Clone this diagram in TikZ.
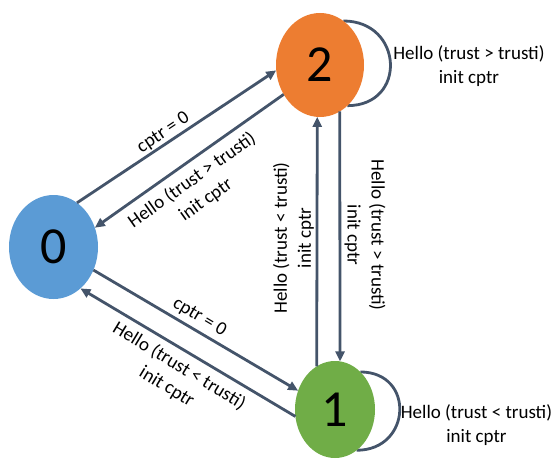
\documentclass[tikz,border=0pt]{standalone}
\usepackage{fontspec}
\setmainfont{Carlito}
\newfontfamily\diagfont{Carlito}
\usetikzlibrary{arrows.meta,shapes.geometric,backgrounds}
\definecolor{edgecol}{HTML}{44546A}
\definecolor{stblue}{HTML}{5B9BD5}
\definecolor{storange}{HTML}{ED7D31}
\definecolor{stgreen}{HTML}{70AD47}
\begin{document}
\begin{tikzpicture}[x=1pt,y=-1pt,
  state/.style={ellipse, inner sep=0pt, outer sep=0pt,
    font=\diagfont\fontsize{52}{52}\selectfont},
  trans/.style={draw=edgecol, line width=2.8pt,
    -{Triangle[length=10pt,width=9pt]}},
  loopline/.style={draw=edgecol, line width=2.8pt},
  lbl/.style={font=\diagfont\fontsize{19}{24}\selectfont,
    align=center, inner sep=0pt}]
\useasboundingbox (0,0) rectangle (552,460);

% states
\node[state, fill=stblue,   minimum width=89pt, minimum height=104pt] (s0) at (53.5,247) {\raisebox{-5pt}{0}};
\node[state, fill=storange, minimum width=88pt, minimum height=104pt] (s2) at (320,65) {2};
\node[state, fill=stgreen,  minimum width=80pt, minimum height=97pt]  (s1) at (335,409.5) {1};

% self loops, drawn behind the states
\begin{scope}[on background layer]
  \draw[loopline] (s2.62) .. controls +(60,0) and +(60,0) .. (s2.-56);
  \draw[loopline] (s1.56) .. controls +(55,0) and +(55,0) .. (s1.-62);
\end{scope}

% transitions
\draw[trans] (s0.62)  -- (s2.187);
\draw[trans] (s2.219) -- (s0.25);
\draw[trans] (s0.-30) -- (s1.153);
\draw[trans] (s1.190) -- (s0.-57);
\draw[trans] (s1.113) -- (s2.267);
\draw[trans] (s2.293) -- (s1.84);

% transition labels
\node[lbl, rotate=33.6]  (c02) at (163.5,133) {cptr = 0};
\node[lbl, rotate=35.3]  (h20) at (199,190) {Hello (trust > trusti)\\init cptr};
\node[lbl, rotate=-30.5] (c01) at (199.5,317.5) {cptr = 0};
\node[lbl, rotate=-31.2] (h10) at (173,376.5) {Hello (trust < trusti)\\init cptr};
\node[lbl, rotate=90]    (h12) at (293.5,238) {Hello (trust < trusti)\\init cptr};
\node[lbl, rotate=-90]   (h21) at (365,235) {Hello (trust > trusti)\\init cptr};
\node[lbl] (h22) at (469,66) {Hello (trust > trusti)\\init cptr};
\node[lbl] (h11) at (476.5,425.5) {Hello (trust < trusti)\\init cptr};
\end{tikzpicture}
\end{document}
